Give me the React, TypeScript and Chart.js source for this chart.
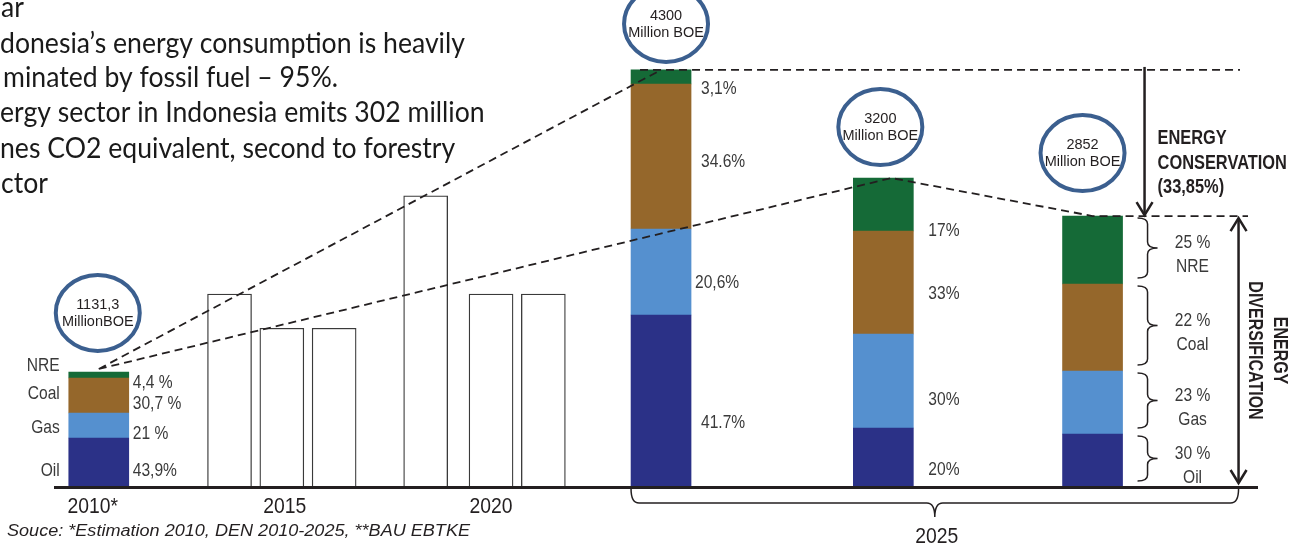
import React, { useEffect, useRef } from 'react';
import { Chart, registerables } from 'chart.js';

Chart.register(...registerables);

// ---------------- data (million BOE) ----------------
const mixBars = ['2010*', '2025 BAU', '2025 RUEN', '2025 Target'];
const oilValues = [503, 1766, 606, 544];
const gasValues = [257, 883, 965, 647];
const coalValues = [359, 1489, 1057, 893];
const nreValues = [62, 144, 544, 698];
const totalLabels = [
  ['1131,3', 'MillionBOE'],
  ['4300', 'Million BOE'],
  ['3200', 'Million BOE'],
  ['2852', 'Million BOE'],
];

const hollowBars = ['2015 a', '2015 b', '2015 c', '2020 a', '2020 b', '2020 c'];
const hollowValues = [1980, 1630, 1630, 2990, 1980, 1980];

// shares listed top to bottom: NRE, Coal, Gas, Oil
const sourceNames = ['NRE', 'Coal', 'Gas', 'Oil'];
const share2010 = ['4,4 %', '30,7 %', '21 %', '43,9%'];
const shareBau = ['3,1%', '34.6%', '20,6%', '41.7%'];
const shareMid = ['17%', '33%', '30%', '20%'];
const shareTarget = ['25 %', '22 %', '23 %', '30 %'];

const yearLabels = ['2010*', '2015', '2020', '2025'];
const introLines = [
  'ar',
  'donesia\u2019s energy consumption is heavily',
  'minated by fossil fuel \u2013 95%.',
  'ergy sector in Indonesia emits 302 million',
  'nes CO2 equivalent, second to forestry',
  'ctor',
];
const sourceNote = 'Souce: *Estimation 2010, DEN 2010-2025, **BAU EBTKE';
const conservationText = ['ENERGY', 'CONSERVATION', '(33,85%)'];
const diversificationText = ['ENERGY', 'DIVERSIFICATION'];

// ---------------- layout ----------------
const SLOT_COUNT = 92;
const mixSlots = [3, 46, 63, 79];
const hollowSlots = [13, 17, 21, 28, 33, 37];
const yearSlots = [3, 17, 33];
const yearDx = [-6, 3, 0];
const circleOffsets = [[-1, -59], [5, -46], [-3, -51], [-10, -63]];

const INK = '#231f20';
const LABEL = '#3a3a3a';
const SANS = '"Liberation Sans", Arial, sans-serif';
const NARROW_SX = 0.82;
const COLORS = { oil: '#2b3187', gas: '#5590cf', coal: '#95672b', nre: '#156a37' };

const slotLabels: string[] = Array.from({ length: SLOT_COUNT }, () => '');
mixSlots.forEach((s, i) => (slotLabels[s] = mixBars[i]));
hollowSlots.forEach((s, i) => (slotLabels[s] = hollowBars[i]));

function place(values: number[], slots: number[]) {
  const arr: (number | null)[] = Array.from({ length: SLOT_COUNT }, () => null);
  slots.forEach((s, i) => (arr[s] = values[i]));
  return arr;
}

function drawText(
  ctx: CanvasRenderingContext2D,
  str: string,
  x: number,
  y: number,
  font: string,
  color: string,
  align: CanvasTextAlign = 'left',
  baseline: CanvasTextBaseline = 'middle',
  sx = 1,
) {
  ctx.save();
  ctx.translate(x, y);
  ctx.scale(sx, 1);
  ctx.font = font;
  ctx.fillStyle = color;
  ctx.textAlign = align;
  ctx.textBaseline = baseline;
  ctx.fillText(str, 0, 0);
  ctx.restore();
}

function braceRight(ctx: CanvasRenderingContext2D, x0: number, top: number, bottom: number, depth: number) {
  const x1 = x0 + depth / 2;
  const tip = x0 + depth;
  const mid = (top + bottom) / 2;
  const r = Math.min(6, (bottom - top) / 4);
  ctx.beginPath();
  ctx.moveTo(x0, top);
  ctx.quadraticCurveTo(x1, top, x1, top + r);
  ctx.lineTo(x1, mid - r);
  ctx.quadraticCurveTo(x1, mid, tip, mid);
  ctx.quadraticCurveTo(x1, mid, x1, mid + r);
  ctx.lineTo(x1, bottom - r);
  ctx.quadraticCurveTo(x1, bottom, x0, bottom);
  ctx.stroke();
}

function arrowHead(ctx: CanvasRenderingContext2D, x: number, y: number, dir: number) {
  ctx.beginPath();
  ctx.moveTo(x - 8, y - 13 * dir);
  ctx.lineTo(x, y);
  ctx.lineTo(x + 8, y - 13 * dir);
  ctx.stroke();
}

const overlay = {
  id: 'overlay',
  afterDatasetsDraw(chart: any) {
    const ctx: CanvasRenderingContext2D = chart.ctx;
    const area = chart.chartArea;
    const box = (ds: number, slot: number) => {
      const e: any = chart.getDatasetMeta(ds).data[slot];
      const top = Math.min(e.y, e.base);
      const bottom = Math.max(e.y, e.base);
      return { left: e.x - e.width / 2, right: e.x + e.width / 2, top, bottom, cx: e.x, cy: (top + bottom) / 2 };
    };
    const segIdx = [3, 2, 1, 0]; // NRE, coal, gas, oil datasets
    const tops = mixSlots.map((s) => box(3, s));
    const [b0, bA, bB, bC] = tops;

    ctx.save();
    // baseline
    ctx.strokeStyle = INK;
    ctx.lineWidth = 3;
    ctx.beginPath();
    ctx.moveTo(area.left + 1, area.bottom + 0.5);
    ctx.lineTo(area.right + 2, area.bottom + 0.5);
    ctx.stroke();

    // dashed guide lines
    ctx.setLineDash([8, 5]);
    ctx.lineWidth = 1.8;
    ctx.beginPath();
    ctx.moveTo(b0.cx, b0.top - 3);
    ctx.lineTo(bA.cx, bA.top);
    ctx.moveTo(bA.left + 9, bA.top);
    ctx.lineTo(area.right - 16, bA.top);
    ctx.moveTo(b0.cx, b0.top - 3);
    ctx.lineTo(bB.cx + 8, bB.top);
    ctx.lineTo(bC.cx, bC.top);
    ctx.lineTo(area.right - 8, bC.top);
    ctx.stroke();
    ctx.setLineDash([]);

    // circles with totals
    tops.forEach((b, i) => {
      const cx = b.cx + circleOffsets[i][0];
      const cy = b.top + circleOffsets[i][1];
      drawText(ctx, totalLabels[i][0], cx, cy - 8, `14.5px ${SANS}`, INK, 'center');
      drawText(ctx, totalLabels[i][1], cx, cy + 9, `14.5px ${SANS}`, INK, 'center');
      ctx.strokeStyle = '#3b5f8f';
      ctx.lineWidth = 4;
      ctx.beginPath();
      ctx.ellipse(cx, cy, 42, 38, 0, 0, Math.PI * 2);
      ctx.stroke();
    });

    const lblFont = `19px ${SANS}`;
    // 2010 labels
    const leftDy = [-9, -2, 2, 8];
    segIdx.forEach((d, k) => {
      const s = box(d, mixSlots[0]);
      drawText(ctx, sourceNames[k], s.left - 9, s.cy + leftDy[k], lblFont, LABEL, 'right', 'middle', NARROW_SX);
      drawText(ctx, share2010[k], s.right + 4, s.cy + 8, lblFont, LABEL, 'left', 'middle', NARROW_SX);
    });
    // BAU labels
    const aDx = [10, 10, 4, 10];
    const aDy = [12, 5, 11, 22];
    segIdx.forEach((d, k) => {
      const s = box(d, mixSlots[1]);
      drawText(ctx, shareBau[k], s.right + aDx[k], s.cy + aDy[k], lblFont, LABEL, 'left', 'middle', NARROW_SX);
    });
    // middle 2025 labels
    const bDy = [26, 11, 19, 12];
    segIdx.forEach((d, k) => {
      const s = box(d, mixSlots[2]);
      drawText(ctx, shareMid[k], s.right + 15, s.cy + bDy[k], lblFont, LABEL, 'left', 'middle', NARROW_SX);
    });
    // target labels with braces
    ctx.strokeStyle = INK;
    ctx.lineWidth = 1.5;
    segIdx.forEach((d, k) => {
      const s = box(d, mixSlots[3]);
      const top = s.top + 2;
      const bottom = s.bottom - 6;
      const mid = (top + bottom) / 2;
      braceRight(ctx, s.right + 15, top, bottom, 20);
      drawText(ctx, shareTarget[k], s.right + 70, mid - 5, lblFont, LABEL, 'center', 'middle', NARROW_SX);
      drawText(ctx, sourceNames[k], s.right + 70, mid + 19, lblFont, LABEL, 'center', 'middle', NARROW_SX);
    });

    // arrows
    ctx.strokeStyle = INK;
    ctx.lineWidth = 2.5;
    const ax1 = bC.right + 22;
    const aTop = bA.top - 3;
    const aBot = bC.top - 1;
    ctx.beginPath();
    ctx.moveTo(ax1, aTop);
    ctx.lineTo(ax1, aBot);
    ctx.stroke();
    arrowHead(ctx, ax1, aBot, 1);
    const ax2 = bC.right + 116;
    const dTop = bC.top + 2;
    const dBot = area.bottom - 4;
    ctx.beginPath();
    ctx.moveTo(ax2, dTop);
    ctx.lineTo(ax2, dBot);
    ctx.stroke();
    arrowHead(ctx, ax2, dTop, -1);
    arrowHead(ctx, ax2, dBot, 1);

    const boldFont = `bold 20px ${SANS}`;
    const cMid = (aTop + aBot) / 2;
    conservationText.forEach((t, i) =>
      drawText(ctx, t, ax1 + 13, cMid - 2 + i * 24.5, boldFont, INK, 'left', 'middle', NARROW_SX),
    );
    const dMid = (dTop + dBot) / 2;
    diversificationText.forEach((t, i) => {
      ctx.save();
      ctx.translate(ax2 + 41 - i * 25, dMid);
      ctx.rotate(Math.PI / 2);
      drawText(ctx, t, 0, 0, `bold 19.5px ${SANS}`, INK, 'center', 'middle', NARROW_SX);
      ctx.restore();
    });

    // 2025 brace
    const x0 = bA.left;
    const x1 = ax2;
    const bx = (x0 + x1) / 2;
    const y0 = area.bottom + 2;
    const y1 = area.bottom + 16;
    const tipY = area.bottom + 30;
    ctx.lineWidth = 1.5;
    ctx.beginPath();
    ctx.moveTo(x0, y0);
    ctx.quadraticCurveTo(x0, y1, x0 + 8, y1);
    ctx.lineTo(bx - 8, y1);
    ctx.quadraticCurveTo(bx, y1, bx, tipY);
    ctx.quadraticCurveTo(bx, y1, bx + 8, y1);
    ctx.lineTo(x1 - 8, y1);
    ctx.quadraticCurveTo(x1, y1, x1, y0);
    ctx.stroke();

    // year labels
    const xs = chart.scales.x;
    const yearFont = `22px ${SANS}`;
    yearSlots.forEach((s, i) => {
      drawText(ctx, yearLabels[i], xs.getPixelForValue(s) + yearDx[i], area.bottom + 20, yearFont, INK, 'center', 'middle', 0.88);
    });
    drawText(ctx, yearLabels[3], bx + 2, area.bottom + 50, yearFont, INK, 'center', 'middle', 0.88);

    // intro text (cut at the left edge)
    const introFont = `28px Lato, "Open Sans", sans-serif`;
    ctx.font = introFont;
    const sx = 465 / ctx.measureText(introLines[1]).width;
    const introX = [1, 0, 3, 0, 0, 1];
    const introY = [17, 53, 87, 122, 158, 193];
    introLines.forEach((t, i) => {
      drawText(ctx, t, introX[i], introY[i], introFont, '#1a1a1a', 'left', 'alphabetic', sx);
    });

    // source note
    const noteFont = `italic 16px ${SANS}`;
    ctx.font = noteFont;
    const ss = 463 / ctx.measureText(sourceNote).width;
    drawText(ctx, sourceNote, 7, area.bottom + 45, noteFont, INK, 'left', 'middle', ss);

    ctx.restore();
  },
};

export default function App() {
  const ref = useRef<HTMLCanvasElement>(null);
  useEffect(() => {
    const chart = new Chart(ref.current as HTMLCanvasElement, {
      type: 'bar',
      data: {
        labels: slotLabels,
        datasets: [
          { label: 'Oil', data: place(oilValues, mixSlots), backgroundColor: COLORS.oil, barThickness: 60, borderWidth: 0 },
          { label: 'Gas', data: place(gasValues, mixSlots), backgroundColor: COLORS.gas, barThickness: 60, borderWidth: 0 },
          { label: 'Coal', data: place(coalValues, mixSlots), backgroundColor: COLORS.coal, barThickness: 60, borderWidth: 0 },
          { label: 'NRE', data: place(nreValues, mixSlots), backgroundColor: COLORS.nre, barThickness: 60, borderWidth: 0 },
          { label: 'Scenario', data: place(hollowValues, hollowSlots), backgroundColor: '#ffffff', borderColor: LABEL, borderWidth: 1.3, barThickness: 44 },
        ],
      } as any,
      options: {
        animation: false,
        responsive: false,
        events: [],
        layout: { padding: { left: 53, right: 47, top: 0, bottom: 61 } },
        plugins: { legend: { display: false }, tooltip: { enabled: false } },
        scales: {
          x: { type: 'category', display: false, stacked: true, offset: true },
          y: { display: false, stacked: true, min: 0, max: 5000 },
        },
      } as any,
      plugins: [overlay],
    });
    return () => chart.destroy();
  }, []);
  return (
    <div style={{ position: 'fixed', left: 0, top: 0, width: 1303, height: 548, background: '#ffffff' }}>
      <canvas ref={ref} width={1303} height={548} style={{ display: 'block', width: 1303, height: 548 }} />
    </div>
  );
}
